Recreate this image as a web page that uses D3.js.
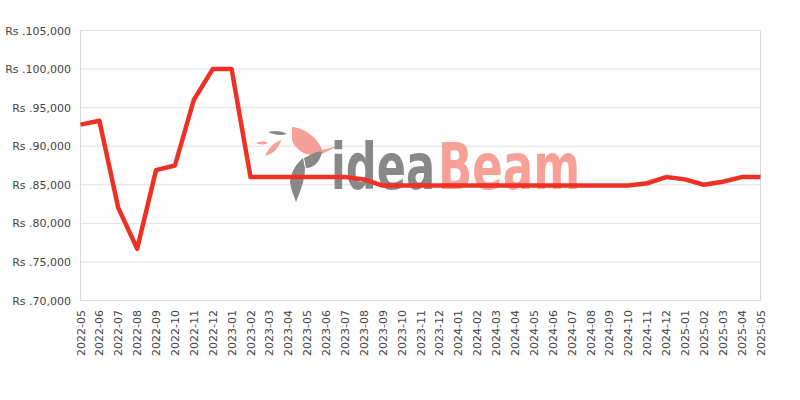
<!DOCTYPE html>
<html><head><meta charset="utf-8">
<script src="https://cdn.jsdelivr.net/npm/d3@7"></script>
<style>body{margin:0;background:#fff}svg{display:block}</style>
</head><body>
<svg id="chart" width="800" height="400"></svg>
<script>
const months = ["2022-05","2022-06","2022-07","2022-08","2022-09","2022-10","2022-11","2022-12","2023-01","2023-02","2023-03","2023-04","2023-05","2023-06","2023-07","2023-08","2023-09","2023-10","2023-11","2023-12","2024-01","2024-02","2024-03","2024-04","2024-05","2024-06","2024-07","2024-08","2024-09","2024-10","2024-11","2024-12","2025-01","2025-02","2025-03","2025-04","2025-05"];
const prices = [92800,93300,82000,76700,86900,87500,96000,100000,100000,86000,86000,86000,86000,86000,86000,85700,84900,84900,84900,84900,84900,84900,84900,84900,84900,84900,84900,84900,84900,84900,85200,86000,85700,85000,85400,86000,86000];
const yTicks = [70000,75000,80000,85000,90000,95000,100000,105000];

const svg = d3.select("#chart");
const L=80.5,R=760.5,T=30.5,B=300.5;
const x = d3.scalePoint().domain(months).range([L,R]);
const y = d3.scaleLinear().domain([70000,105000]).range([B,T]);
const fmt = d => "Rs ." + d3.format(",")(d);

// grid
svg.append("g").selectAll("line").data(yTicks).join("line")
  .attr("x1",L).attr("x2",R).attr("y1",d=>y(d)).attr("y2",d=>y(d))
  .attr("stroke","#e0e0e0").attr("stroke-width",1);

// watermark
const wm = svg.append("g");
wm.append("path").attr("d","M292,127 C305,128 318,138 322,150 L338,146 L322,154 C310,158 296,152 292,140 Z").attr("fill","#f6a098");
wm.append("path").attr("d","M268,132 C275,130 282,131 287,134 C281,136 274,135 268,132 Z").attr("fill","#888");
wm.append("path").attr("d","M256,143 C261,141 265,141 268,143 C264,145 260,145 256,143 Z").attr("fill","#f6a098");
wm.append("path").attr("d","M265,156 C268,148 275,142 281,140 C279,148 273,154 265,156 Z").attr("fill","#f6a098");
wm.append("path").attr("d","M304,158 C311,155 318,150 322,152 C320,162 314,168 306,168 Z").attr("fill","#888");
wm.append("path").attr("d","M303,158 C296,164 291,172 290,182 C291,190 294,196 296,202 C300,192 305,180 305,168 Z").attr("fill","#888");
wm.append("text").attr("x",331).attr("y",189).attr("font-family","'DejaVu Sans Condensed','DejaVu Sans',sans-serif")
  .attr("font-weight","bold").attr("font-size",64).attr("textLength",104).attr("lengthAdjust","spacingAndGlyphs")
  .attr("fill","#888").text("idea");
wm.append("text").attr("x",438).attr("y",189).attr("font-family","'DejaVu Sans Condensed','DejaVu Sans',sans-serif")
  .attr("font-weight","bold").attr("font-size",64).attr("textLength",142).attr("lengthAdjust","spacingAndGlyphs")
  .attr("fill","#f6a098").text("Beam");

// frame
svg.append("line").attr("x1",L).attr("x2",L).attr("y1",T).attr("y2",B).attr("stroke","#d9d9d9");
svg.append("line").attr("x1",R).attr("x2",R).attr("y1",T).attr("y2",B).attr("stroke","#d9d9d9");
svg.append("line").attr("x1",L).attr("x2",R).attr("y1",B).attr("y2",B).attr("stroke","#d9d9d9");

// y labels
svg.append("g").selectAll("text").data(yTicks).join("text")
  .attr("x",71).attr("y",d=>y(d)+4).attr("text-anchor","end")
  .attr("font-family","'DejaVu Sans',sans-serif").attr("font-size",11).attr("fill","#444")
  .text(fmt);

// x labels
svg.append("g").selectAll("text").data(months).join("text")
  .attr("transform",d=>`translate(${x(d)+4},310) rotate(-90)`).attr("text-anchor","end")
  .attr("font-family","'DejaVu Sans',sans-serif").attr("font-size",11).attr("fill","#444")
  .text(d=>d);

// line
const line = d3.line().x((d,i)=>x(months[i])).y(d=>y(d));
svg.append("path").datum(prices).attr("d",line).attr("fill","none")
  .attr("stroke","#ee3124").attr("stroke-width",4.5).attr("stroke-linejoin","round");
</script>
</body></html>
